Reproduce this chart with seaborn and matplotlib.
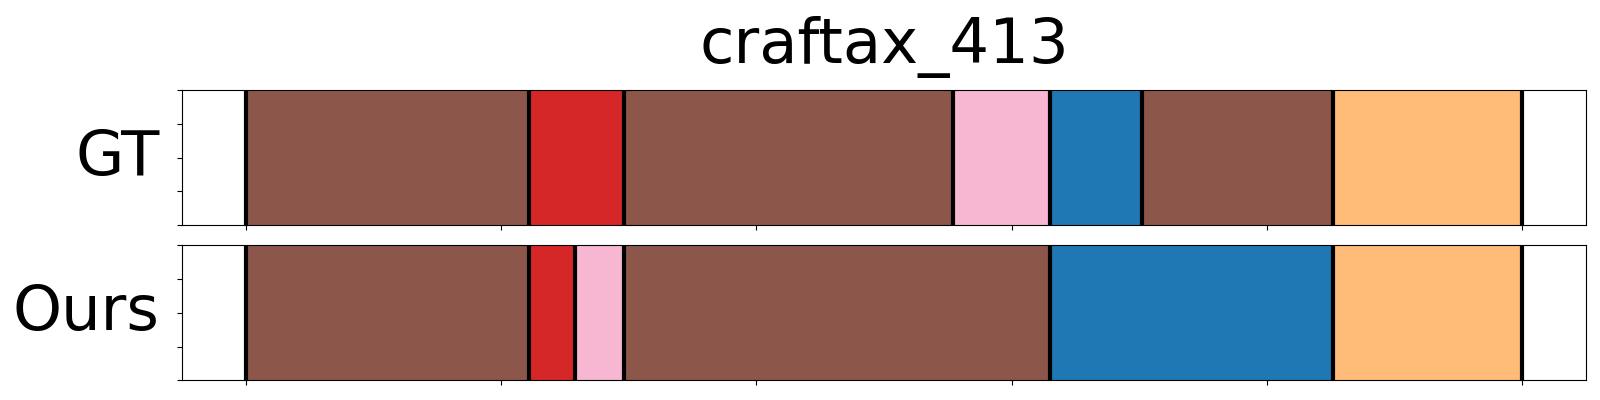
import numpy as np
import pandas as pd
import seaborn as sns
import matplotlib
matplotlib.use("Agg")
import matplotlib.pyplot as plt

# ======================================
# DATA (segment boundaries in frames)
# ======================================

title = "craftax_413"

gt_edges = [0, 111, 148, 277, 315, 351, 426, 500]
gt_labels = [10, 6, 10, 13, 0, 10, 3]

ours_edges = [0, 111, 129, 148, 315, 426, 500]
ours_labels = [10, 6, 13, 10, 0, 3]

row_names = ["GT", "Ours"]

# ======================================
# STYLE
# ======================================

sns.set_style(
    "ticks",
    rc={
        "axes.edgecolor": "black",
        "xtick.color": "black",
        "ytick.color": "black",
        "text.color": "black",
        "axes.labelcolor": "black",
    }
)
plt.rcParams["font.family"] = ["DejaVu Sans"]

tab20 = sns.color_palette("tab20", 20)
all_labels = sorted(set(gt_labels) | set(ours_labels))
palette = {lab: tab20[lab] for lab in all_labels}


def segments_frame(edges, labels):
    return pd.DataFrame({
        "start": edges[:-1],
        "end": edges[1:],
        "mid": [(a + b) / 2 for a, b in zip(edges[:-1], edges[1:])],
        "label": labels,
        "weight": [1.0] * len(labels),
    })


# ======================================
# PLOT
# ======================================

fig, axes = plt.subplots(2, 1, figsize=(16, 4), dpi=100)
fig.subplots_adjust(
    left=0.11375,
    right=0.99125,
    top=0.77425,
    bottom=0.04925,
    hspace=0.15
)

rows = [(gt_edges, gt_labels), (ours_edges, ours_labels)]

for ax, name, (edges, labels) in zip(axes, row_names, rows):
    df = segments_frame(edges, labels)
    sns.histplot(
        data=df,
        x="mid",
        weights="weight",
        bins=edges,
        hue="label",
        palette=palette,
        multiple="layer",
        alpha=1,
        linewidth=0,
        legend=False,
        ax=ax
    )
    for e in edges:
        ax.axvline(e, color="black", lw=3)

    total = edges[-1]
    ax.set_xlim(-0.05 * total, 1.05 * total)
    ax.set_ylim(0, 1)
    ax.set_xticks(np.arange(0, total + 1, 100))
    ax.set_xticklabels([])
    ax.set_yticks(np.linspace(0, 1, 5))
    ax.set_yticklabels([])
    ax.set_xlabel("")
    ax.set_ylabel(
        name,
        rotation=0,
        fontsize=45,
        labelpad=9,
        ha="right",
        va="center"
    )
    for s in ax.spines.values():
        s.set_visible(True)

axes[0].set_title(title, fontsize=45, pad=20)

plt.savefig("out.png")
